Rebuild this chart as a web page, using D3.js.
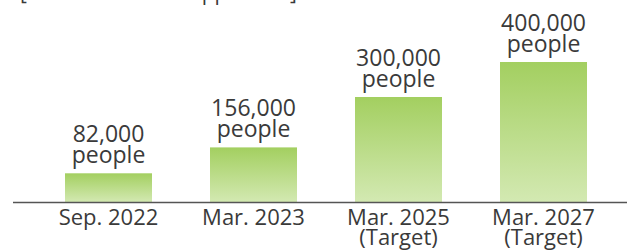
<!DOCTYPE html>
<html><head><meta charset="utf-8">
<script src="https://cdn.jsdelivr.net/npm/d3@7"></script>
<style>body{margin:0;background:#fff;} svg{display:block;}</style>
</head><body>
<script>
const categories = ["Sep. 2022", "Mar. 2023", "Mar. 2025", "Mar. 2027"];
const subLabels = ["", "", "(Target)", "(Target)"];
const values = [82000, 156000, 300000, 400000];
const valueLabels = ["82,000", "156,000", "300,000", "400,000"];
const unitLabel = "people";
const title = "[Total number of applicants]";

const W = 627, H = 251;
const font = "'Open Sans', sans-serif";
const textColor = "#3a3a3a";
const svg = d3.select("body").append("svg").attr("width", W).attr("height", H);

const defs = svg.append("defs");
const grad = defs.append("linearGradient").attr("id", "g").attr("x1", 0).attr("y1", 0).attr("x2", 0).attr("y2", 1);
grad.append("stop").attr("offset", "0%").attr("stop-color", "#a3cf60");
grad.append("stop").attr("offset", "100%").attr("stop-color", "#d3e9b2");

const x = d3.scaleBand().domain(categories).range([36, 616]).paddingInner(0.4).paddingOuter(0.2);
const y = d3.scaleLinear().domain([0, 400000]).range([202, 62]);

svg.append("text").attr("x", 20).attr("y", 0).attr("font-family", font).attr("font-size", 21)
  .attr("fill", textColor).text(title);

svg.selectAll("rect.bar").data(values).join("rect")
  .attr("x", (d, i) => x(categories[i]))
  .attr("width", x.bandwidth())
  .attr("y", d => y(d))
  .attr("height", d => y(0) - y(d))
  .attr("fill", "url(#g)");

svg.append("line").attr("x1", 13).attr("x2", W).attr("y1", y(0) + 0.5).attr("y2", y(0) + 0.5)
  .attr("stroke", "#555").attr("stroke-width", 1.5);

const lab = svg.selectAll("g.lab").data(values).join("g")
  .attr("transform", (d, i) => `translate(${x(categories[i]) + x.bandwidth() / 2},${y(d)})`);
lab.append("text").attr("y", -31).attr("text-anchor", "middle").attr("font-family", font)
  .attr("font-size", 23).attr("fill", textColor).text((d, i) => valueLabels[i]);
lab.append("text").attr("y", -10).attr("text-anchor", "middle").attr("font-family", font)
  .attr("font-size", 23).attr("fill", textColor).text(unitLabel);

const xl = svg.selectAll("g.xl").data(categories).join("g")
  .attr("transform", d => `translate(${x(d) + x.bandwidth() / 2},${y(0)})`);
xl.append("text").attr("y", 23).attr("text-anchor", "middle").attr("font-family", font)
  .attr("font-size", 22).attr("fill", textColor).text(d => d);
xl.append("text").attr("y", 43).attr("text-anchor", "middle").attr("font-family", font)
  .attr("font-size", 22).attr("fill", textColor).text((d, i) => subLabels[i]);
</script>
</body></html>
